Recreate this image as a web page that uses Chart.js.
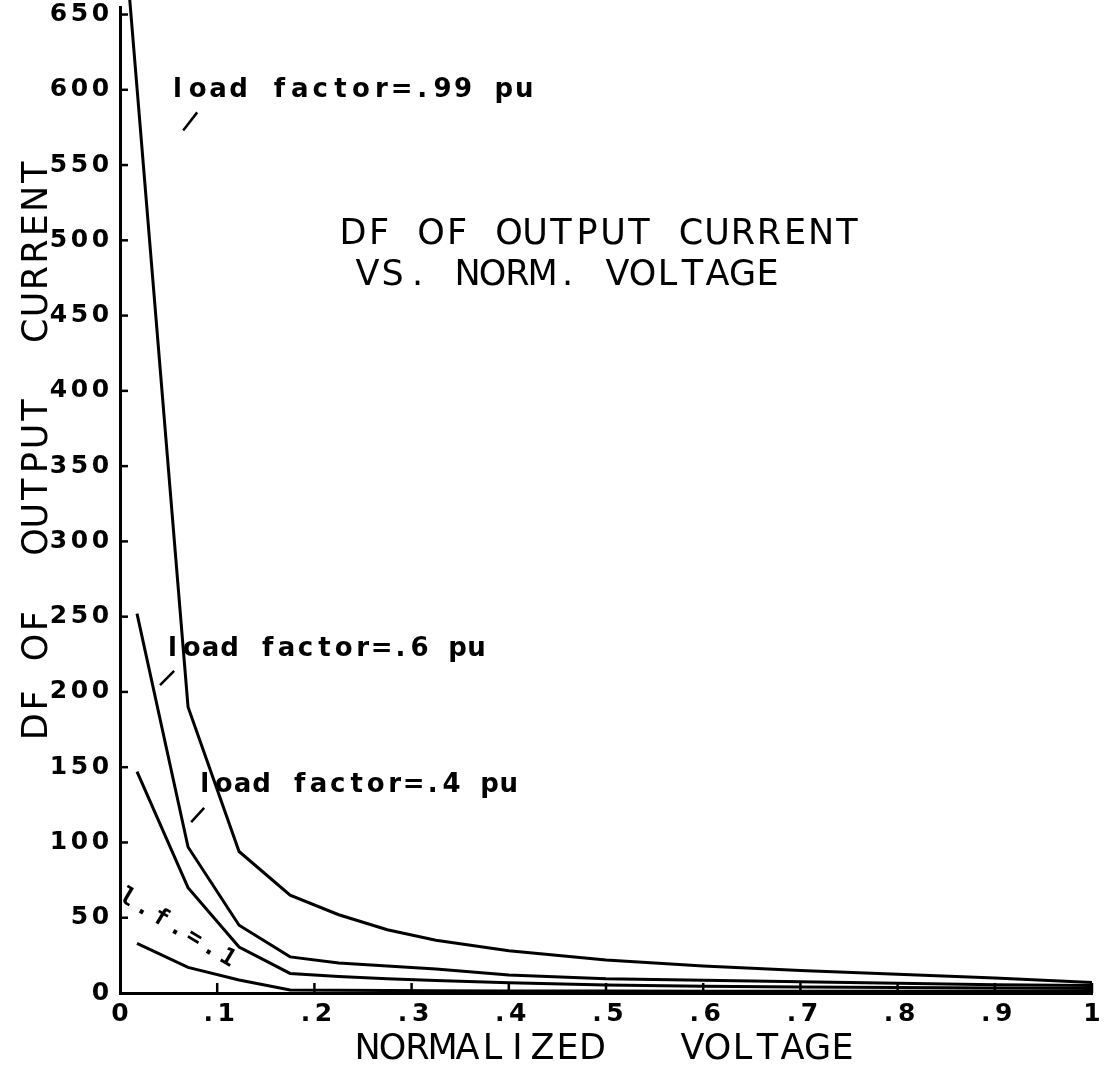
<!DOCTYPE html>
<html>
<head>
<meta charset="utf-8">
<script src="https://cdn.jsdelivr.net/npm/chart.js@4.4.0/dist/chart.umd.min.js"></script>
<style>
body { margin: 0; background: #fff; }
#wrap { width: 1107px; height: 1072px; position: relative; }
</style>
</head>
<body>
<div id="wrap"><canvas id="myChart"></canvas></div>
<script>
// normalized voltage (x) for each curve
var voltage = [0.0175, 0.07, 0.1225, 0.175, 0.225, 0.275, 0.325, 0.4, 0.5, 0.6, 0.7, 0.8, 0.9, 1.0];
var voltage99 = [0.01, 0.07, 0.1225, 0.175, 0.225, 0.275, 0.325, 0.4, 0.5, 0.6, 0.7, 0.8, 0.9, 1.0];

// DF of output current, per load factor
var df99 = [660, 190, 94, 65, 52, 42, 35, 28, 22, 18, 15, 12.5, 10, 7];
var df60 = [252, 97, 45, 24, 20, 18, 16, 12, 9.5, 8.5, 7.5, 6.5, 5.5, 5];
var df40 = [147, 70, 30.5, 13, 11, 9.5, 8.3, 6.8, 5.3, 4.5, 4, 3.6, 3.3, 3];
var df10 = [33, 17, 8.6, 2, 1.8, 1.6, 1.5, 1.4, 1.3, 1.2, 1.2, 1.1, 1.1, 1];

var xTickLabels = ['0', '.1', '.2', '.3', '.4', '.5', '.6', '.7', '.8', '.9', '1'];
var curveLabels = ['load factor=.99 pu', 'load factor=.6 pu', 'load factor=.4 pu', 'l.f.=.1'];

function pts(xs, ys) {
    return xs.map(function (x, i) { return { x: x, y: ys[i] }; });
}

// draw text one char per fixed cell, like the old plotter font
function spaced(ctx, text, x, y, pitch, align) {
    var w = text.length * pitch;
    var x0 = align == 'center' ? x - w / 2 : (align == 'right' ? x - w : x);
    ctx.textAlign = 'center';
    for (var i = 0; i < text.length; i++) {
        ctx.fillText(text[i], x0 + pitch * (i + 0.5), y);
    }
}

var plotterText = {
    id: 'plotterText',
    afterDraw: function (chart) {
        var ctx = chart.ctx;
        var xs = chart.scales.x, ys = chart.scales.y;
        var left = chart.chartArea.left, bottom = chart.chartArea.bottom;
        ctx.save();
        ctx.fillStyle = '#000';
        ctx.strokeStyle = '#000';
        ctx.lineWidth = 2.5;

        // tick marks (inside) and labels
        ctx.font = 'bold 25px "DejaVu Sans"';
        ctx.textBaseline = 'middle';
        ys.ticks.forEach(function (t) {
            var py = ys.getPixelForValue(t.value);
            if (t.value > 0) {
                ctx.beginPath(); ctx.moveTo(left, py); ctx.lineTo(left + 8, py); ctx.stroke();
            }
            spaced(ctx, String(t.value), left - 9, py, 21, 'right');
        });
        xs.ticks.forEach(function (t, i) {
            var px = xs.getPixelForValue(t.value);
            if (t.value > 0) {
                ctx.beginPath(); ctx.moveTo(px, bottom); ctx.lineTo(px, bottom - 10); ctx.stroke();
            }
            spaced(ctx, xTickLabels[i], px, bottom + 21, 18, 'center');
        });

        // titles
        ctx.font = '35px "DejaVu Sans"';
        spaced(ctx, 'DF OF OUTPUT CURRENT', 340, 235, 26, 'left');
        spaced(ctx, 'VS. NORM. VOLTAGE', 355, 276, 25, 'left');
        spaced(ctx, 'NORMALIZED   VOLTAGE', 355, 1050, 25, 'left');
        ctx.save();
        ctx.translate(38, 740);
        ctx.rotate(-Math.PI / 2);
        spaced(ctx, 'DF OF  OUTPUT  CURRENT', 0, 0, 26.4, 'left');
        ctx.restore();

        // curve labels with leader ticks
        ctx.font = 'bold 26px "DejaVu Sans"';
        ctx.textBaseline = 'alphabetic';
        var notes = [
            { x: 0.0485, y: 595, pitch: 20.4, lead: [0.065, 573, 0.0794, 585] },
            { x: 0.0443, y: 224, pitch: 19, lead: [0.0412, 204.5, 0.0557, 214] },
            { x: 0.0773, y: 133.5, pitch: 19, lead: [0.0732, 113.5, 0.0866, 123] }
        ];
        notes.forEach(function (n, i) {
            spaced(ctx, curveLabels[i], xs.getPixelForValue(n.x), ys.getPixelForValue(n.y), n.pitch, 'left');
            ctx.beginPath();
            ctx.moveTo(xs.getPixelForValue(n.lead[0]), ys.getPixelForValue(n.lead[1]));
            ctx.lineTo(xs.getPixelForValue(n.lead[2]), ys.getPixelForValue(n.lead[3]));
            ctx.stroke();
        });

        ctx.save();
        ctx.font = 'bold 24px "DejaVu Sans Mono"';
        ctx.textBaseline = 'middle';
        ctx.translate(xs.getPixelForValue(0.0072), ys.getPixelForValue(63));
        ctx.rotate(31 * Math.PI / 180);
        spaced(ctx, curveLabels[3], -9.7, 0, 19.5, 'left');
        ctx.restore();

        ctx.restore();
    }
};

function curve(xs, ys) {
    return {
        data: pts(xs, ys),
        borderColor: '#000',
        borderWidth: 3,
        pointRadius: 0,
        tension: 0,
        fill: false,
        clip: false
    };
}

var ctx = document.getElementById('myChart').getContext('2d');
var myChart = new Chart(ctx, {
    type: 'line',
    data: {
        datasets: [
            curve(voltage99, df99),
            curve(voltage, df60),
            curve(voltage, df40),
            curve(voltage, df10)
        ]
    },
    options: {
        responsive: true,
        maintainAspectRatio: false,
        animation: false,
        layout: { padding: { left: 120, right: 15, top: 7, bottom: 79 } },
        plugins: { legend: { display: false }, tooltip: { enabled: false } },
        scales: {
            x: {
                type: 'linear', min: 0, max: 1,
                ticks: { display: false, stepSize: 0.1 },
                grid: { display: false, drawTicks: false },
                border: { display: true, color: '#000', width: 3 }
            },
            y: {
                min: 0, max: 655,
                ticks: { display: false, stepSize: 50, includeBounds: false },
                grid: { display: false, drawTicks: false },
                border: { display: true, color: '#000', width: 3 }
            }
        }
    },
    plugins: [plotterText]
});
</script>
</body>
</html>
